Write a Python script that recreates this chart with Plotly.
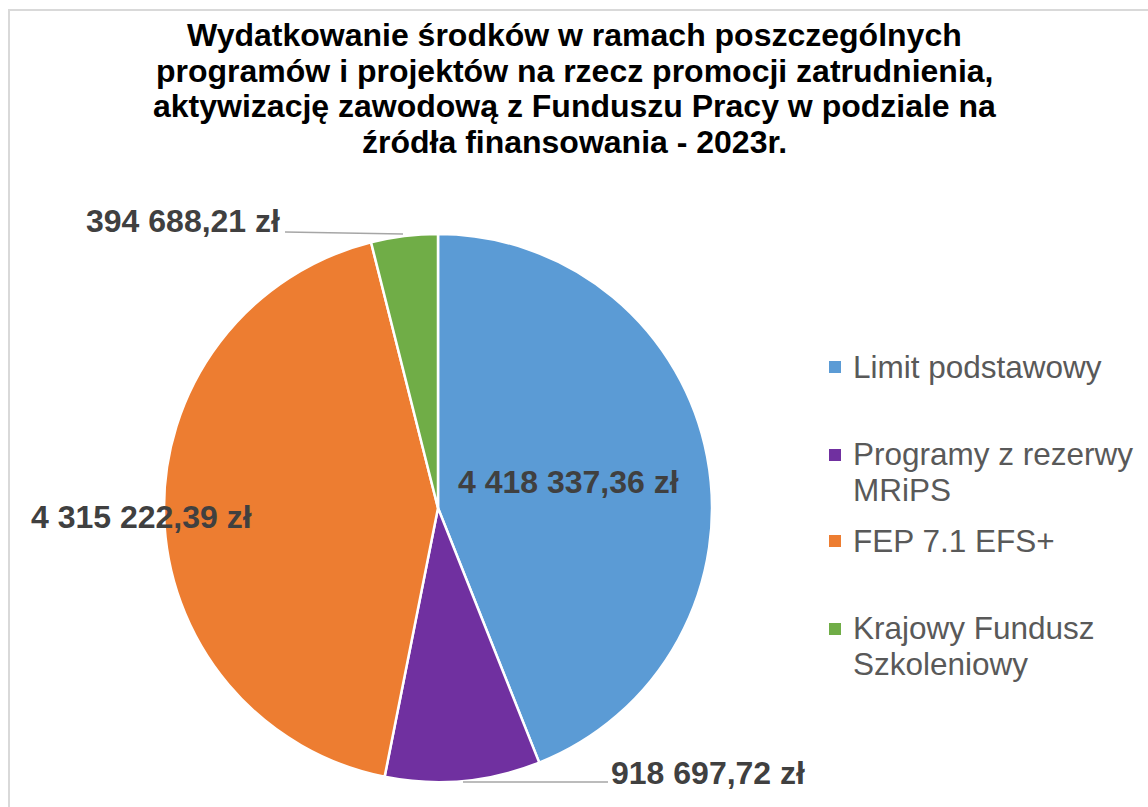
import plotly.graph_objects as go

OFF = 0
W, H = 1148, 807

# ---- data ----
categories = ["Limit podstawowy", "Programy z rezerwy MRiPS", "FEP 7.1 EFS+", "Krajowy Fundusz Szkoleniowy"]
legend_lines = [["Limit podstawowy"], ["Programy z rezerwy", "MRiPS"], ["FEP 7.1 EFS+"], ["Krajowy Fundusz", "Szkoleniowy"]]
values = [4418337.36, 918697.72, 4315222.39, 394688.21]
colors = ["#5B9BD5", "#7030A0", "#ED7D31", "#70AD47"]
title_lines = [
    "Wydatkowanie środków w ramach poszczególnych",
    "programów i projektów na rzecz promocji zatrudnienia,",
    "aktywizację zawodową z Funduszu Pracy w podziale na",
    "źródła finansowania - 2023r.",
]


def fmt(v):
    return f"{v:,.2f}".replace(",", " ").replace(".", ",") + " zł"


def px(x):
    return (x - OFF) / W


def py(y):
    return 1 - (y - OFF) / H


# ---- geometry (screen pixels) ----
cx, cy, r = 438, 508, 274
label_pos = [(568, 482), (708, 773), (141, 517), (183, 221)]
leaders = [None, [(463, 782), (608, 782)], None, [(285, 232), (403, 234)]]
legend_y = [[367], [454, 490], [541], [628, 664]]
legend_sq_y = [367, 455, 541, 629]

FONT = "Liberation Sans, Arial, sans-serif"

fig = go.Figure(
    go.Pie(
        labels=categories,
        values=values,
        sort=False,
        direction="clockwise",
        rotation=0,
        marker=dict(colors=colors, line=dict(color="white", width=2.5)),
        textinfo="none",
        hoverinfo="label+value+percent",
        showlegend=False,
        domain=dict(x=[px(cx - r), px(cx + r)], y=[py(cy + r), py(cy - r)]),
    )
)

annotations = []
for i, line in enumerate(title_lines):
    annotations.append(dict(
        x=px(574), y=py(35 + i * 35.7), xref="paper", yref="paper",
        text=f"<b>{line}</b>", showarrow=False, xanchor="center", yanchor="middle",
        font=dict(family=FONT, size=32, color="#000000"),
    ))

for v, (lx, ly) in zip(values, label_pos):
    annotations.append(dict(
        x=px(lx), y=py(ly), xref="paper", yref="paper",
        text=f"<b>{fmt(v)}</b>", showarrow=False, xanchor="center", yanchor="middle",
        font=dict(family=FONT, size=32, color="#404040"),
    ))

shapes = []
for lines, ys, sy, col in zip(legend_lines, legend_y, legend_sq_y, colors):
    for t, y in zip(lines, ys):
        annotations.append(dict(
            x=px(851), y=py(y), xref="paper", yref="paper",
            text=t, showarrow=False, xanchor="left", yanchor="middle",
            font=dict(family=FONT, size=31.5, color="#595959"),
        ))
    shapes.append(dict(type="rect", xref="paper", yref="paper",
                       x0=px(829), x1=px(841), y0=py(sy - 6), y1=py(sy + 6),
                       fillcolor=col, line=dict(width=0)))

for ld in leaders:
    if ld:
        (x0, y0), (x1, y1) = ld
        shapes.append(dict(type="line", xref="paper", yref="paper",
                           x0=px(x0), y0=py(y0), x1=px(x1), y1=py(y1),
                           line=dict(color="#A6A6A6", width=1.5)))

# chart border (left and top edges visible)
shapes.append(dict(type="rect", xref="paper", yref="paper",
                   x0=px(9), y0=py(10), x1=px(1148 + 30), y1=py(807 + 30),
                   line=dict(color="#D9D9D9", width=2), fillcolor="rgba(0,0,0,0)"))

fig.update_layout(
    width=W, height=H,
    margin=dict(l=0, r=0, t=0, b=0),
    paper_bgcolor="white", plot_bgcolor="white",
    annotations=annotations, shapes=shapes,
    showlegend=False,
)

fig.write_html(
    "out.html",
    config={"displayModeBar": False},
    post_script="document.body.style.margin='0';document.body.style.overflow='hidden';",
)
